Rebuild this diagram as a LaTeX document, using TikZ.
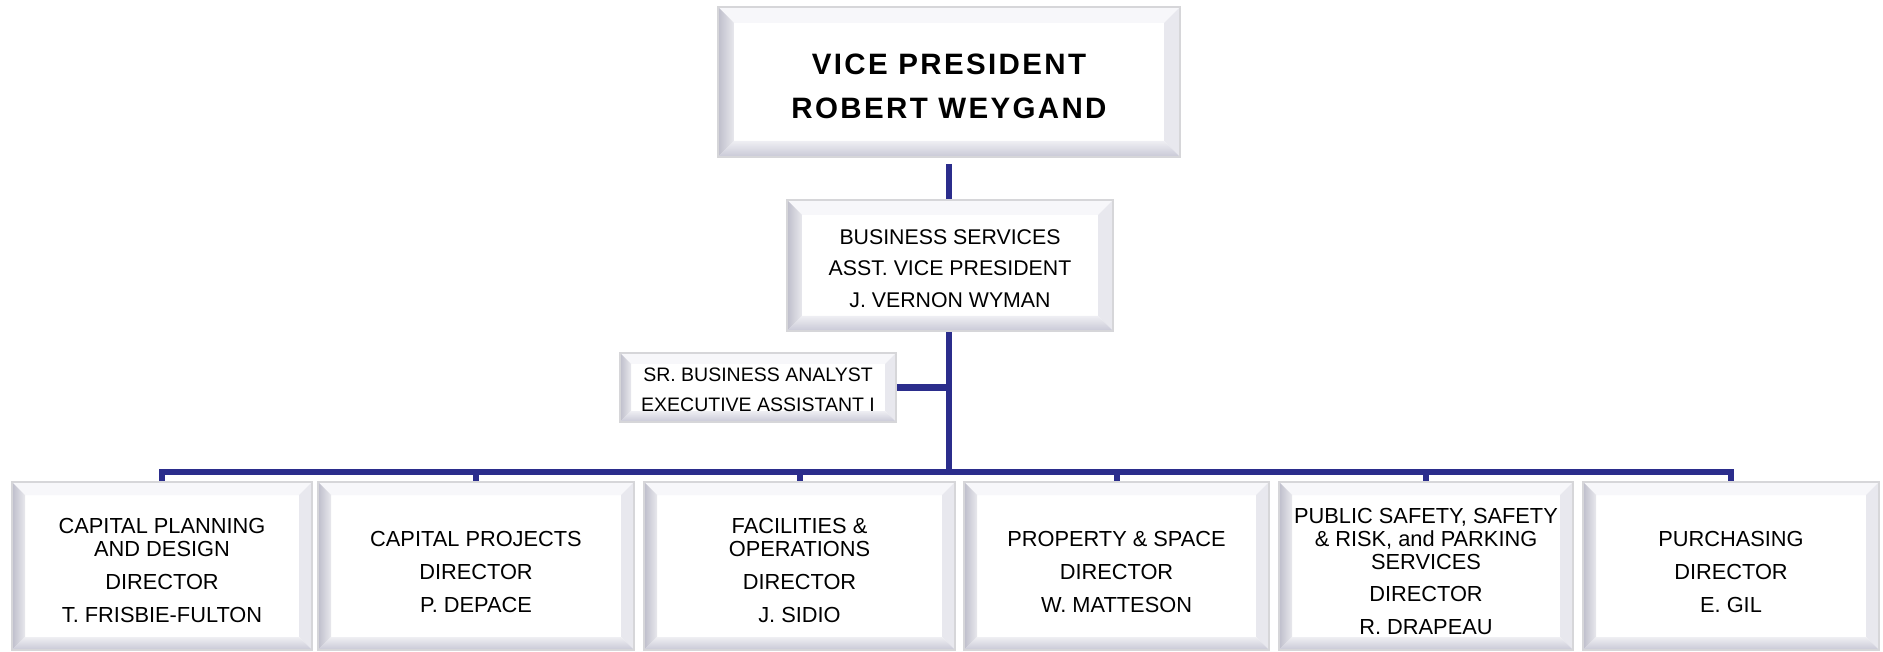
\documentclass[tikz,border=0pt]{standalone}
\usepackage{fontspec}
\setmainfont{Liberation Sans}
\newfontfamily\vpfont[LetterSpace=8]{Liberation Sans}
\usetikzlibrary{calc}
\definecolor{navy}{RGB}{43,45,140}
\definecolor{rim}{RGB}{214,214,217}
\definecolor{bevL}{RGB}{190,190,203}
\definecolor{bevB}{RGB}{200,200,214}
\definecolor{bevR}{RGB}{232,232,238}
\definecolor{bevT}{RGB}{247,247,250}
\def\bev{13pt}
\newcommand\boxtext[2]{\raisebox{-#1}[\height][\depth]{\begin{tabular}{@{}c@{}}#2\end{tabular}}}
\tikzset{
  bev/.store in=\bev,
  bevelbox/.style={rectangle, draw=rim, line width=2.5pt, fill=white, inner sep=0pt,
    text=black,
    path picture={
      \coordinate (ppsw) at (path picture bounding box.south west);
      \coordinate (ppne) at (path picture bounding box.north east);
      \coordinate (ppnw) at (ppsw |- ppne);
      \coordinate (ppse) at (ppne |- ppsw);
      \coordinate (ppisw) at ($(ppsw)+(\bev,\bev)$);
      \coordinate (ppine) at ($(ppne)+(-\bev,-\bev)$);
      \coordinate (ppinw) at ($(ppnw)+(\bev,-\bev)$);
      \coordinate (ppise) at ($(ppse)+(-\bev,\bev)$);
      \fill[bevT] (ppnw) -- (ppne) -- (ppine) -- (ppinw) -- cycle;
      \fill[bevR] (ppse) -- (ppne) -- (ppine) -- (ppise) -- cycle;
      \shade[left color=bevL, right color=bevL!35!white] (ppsw) -- (ppisw) -- (ppinw) -- (ppnw) -- cycle;
      \shade[bottom color=bevB, top color=bevB!30!white] (ppsw) -- (ppse) -- (ppise) -- (ppisw) -- cycle;
    }},
  lowbox/.style={bevelbox, minimum height=168pt, font=\fontsize{21.8}{23}\selectfont},
  conn/.style={draw=navy, line width=6pt},
}
\begin{document}
\begin{tikzpicture}[x=1pt,y=-1pt]
\useasboundingbox[fill=white] (0,0) rectangle (1883,652);

\node[bevelbox, bev=16pt, minimum width=462pt, minimum height=150pt,
      font=\vpfont\bfseries\fontsize{29.5}{44.5}\selectfont] (vp) at (949,82)
  {\boxtext{5.5pt}{VICE PRESIDENT\\ROBERT WEYGAND}};

\node[bevelbox, bev=15pt, minimum width=326pt, minimum height=131pt,
      font=\fontsize{21.3}{31.7}\selectfont] (bs) at (950,265.5)
  {\boxtext{4pt}{BUSINESS SERVICES\\ASST. VICE PRESIDENT\\J. VERNON WYMAN}};

\node[bevelbox, bev=11pt, minimum width=276pt, minimum height=69pt,
      font=\fontsize{19.5}{29.5}\selectfont] (sr) at (758,387.5)
  {\boxtext{3pt}{SR. BUSINESS ANALYST\\EXECUTIVE ASSISTANT I}};

\node[lowbox, minimum width=300pt] (b1) at (162,566)
  {\boxtext{7.6pt}{CAPITAL PLANNING\\AND DESIGN\\[10pt]DIRECTOR\\[10pt]T. FRISBIE-FULTON}};
\node[lowbox, minimum width=316pt] (b2) at (476,566)
  {\boxtext{8.8pt}{CAPITAL PROJECTS\\[10pt]DIRECTOR\\[10pt]P. DEPACE}};
\node[lowbox, minimum width=311pt] (b3) at (799.5,566)
  {\boxtext{7.6pt}{FACILITIES \&\\OPERATIONS\\[10pt]DIRECTOR\\[10pt]J. SIDIO}};
\node[lowbox, minimum width=305pt] (b4) at (1116.5,566)
  {\boxtext{8.8pt}{PROPERTY \& SPACE\\[10pt]DIRECTOR\\[10pt]W. MATTESON}};
\node[lowbox, minimum width=294pt] (b5) at (1426,566)
  {\boxtext{8.6pt}{PUBLIC SAFETY, SAFETY\\\& RISK, and PARKING\\SERVICES\\[9pt]DIRECTOR\\[10pt]R. DRAPEAU}};
\node[lowbox, minimum width=296pt] (b6) at (1731,566)
  {\boxtext{8.8pt}{PURCHASING\\[10pt]DIRECTOR\\[10pt]E. GIL}};

\coordinate (bus) at (948.5,471.5);
\coordinate (vpgap) at (948.5,164);

\draw[conn] (vpgap) -- (vpgap |- bs.north);
\draw[conn] (bus |- bs.south) -- (bus);
\draw[conn] (sr.east) -- (sr.east -| bus);
\foreach \b in {b1,b2,b3,b4,b5,b6}
  \draw[conn] (bus) -| (\b.north);
\end{tikzpicture}
\end{document}
